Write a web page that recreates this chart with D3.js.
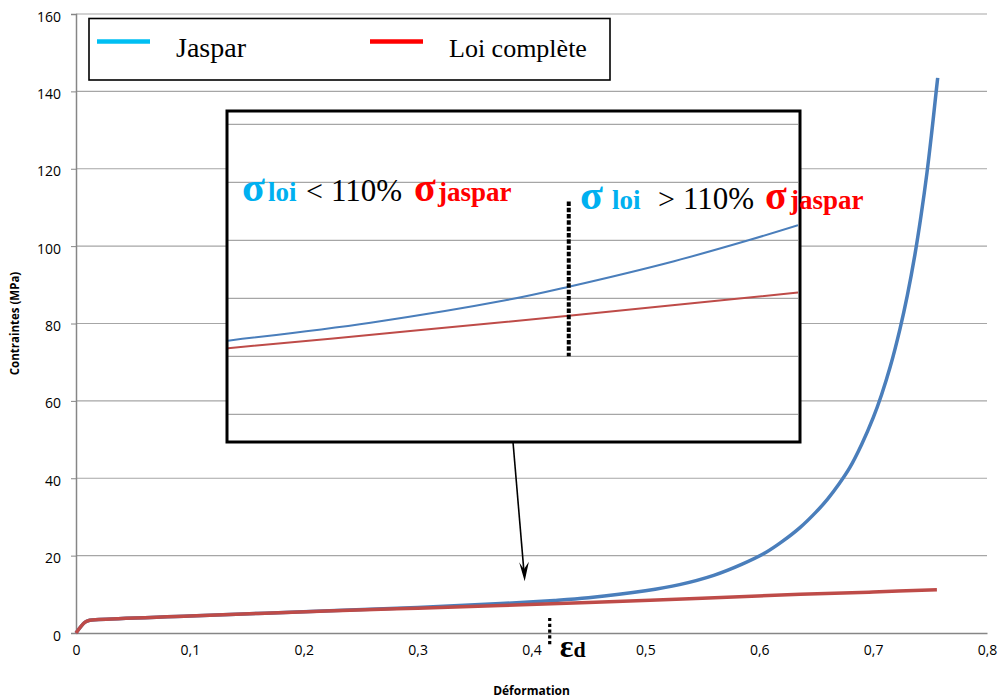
<!DOCTYPE html>
<html><head><meta charset="utf-8">
<script src="https://cdn.jsdelivr.net/npm/d3@7"></script>
<style>body{margin:0;background:#fff}</style>
</head><body><svg id="c" width="999" height="700"></svg>
<script>
// ---------- data ----------
const yTicks = [0, 20, 40, 60, 80, 100, 120, 140, 160];
const xTicks = [0, 0.1, 0.2, 0.3, 0.4, 0.5, 0.6, 0.7, 0.8];
const xTickLabels = ["0", "0,1", "0,2", "0,3", "0,4", "0,5", "0,6", "0,7", "0,8"];
const seriesNames = ["Jaspar", "Loi complète"];

const jasparStrain = [0, 0.008, 0.012, 0.02, 0.1, 0.2, 0.3, 0.373, 0.42, 0.45, 0.5, 0.53, 0.56, 0.585, 0.6057, 0.62, 0.636, 0.65, 0.66, 0.67, 0.6796, 0.69, 0.7, 0.7074, 0.715, 0.7235, 0.73, 0.7367, 0.742, 0.7473, 0.7515, 0.7552, 0.7567];
const jasparStress = [0, 2.8, 3.3, 3.5, 4.4, 5.5, 6.6, 7.6, 8.4, 9.1, 10.9, 12.5, 14.9, 17.8, 20.8, 23.6, 27.3, 31.3, 34.6, 38.5, 42.8, 48.8, 55.6, 61.6, 68.8, 78.5, 87.2, 97.8, 107.7, 119, 129.5, 139.5, 143.5];

const loiStrain = [0, 0.008, 0.012, 0.02, 0.1, 0.22, 0.3, 0.373, 0.45, 0.55, 0.636, 0.7, 0.756];
const loiStress = [0, 2.8, 3.3, 3.5, 4.4, 5.7, 6.4, 7.1, 7.9, 9.0, 10.0, 10.6, 11.2];

// zoomed view (inset)
const insetGrid = [6, 7, 8, 9, 10, 11];
const insetJasparStrain = [0.361, 0.384, 0.406, 0.416, 0.433, 0.445, 0.453];
const insetJasparStress = [7.27, 7.58, 7.97, 8.20, 8.64, 9.00, 9.26];
const insetLoiStrain = [0.361, 0.39, 0.416, 0.453];
const insetLoiStress = [7.14, 7.43, 7.70, 8.10];
const epsD = 0.416;

// ---------- drawing ----------
const svg = d3.select("#c");
const x = d3.scaleLinear().domain([0, 0.8]).range([76, 987]);
const y = d3.scaleLinear().domain([0, 160]).range([633, 14]);
const sans = "'Open Sans', 'Liberation Sans', sans-serif";
const serif = "'Liberation Serif', 'DejaVu Serif', serif";
const BLUE = "#4A7EBB", RED = "#BE4B48";

// gridlines
svg.append("g").selectAll("line").data(yTicks.filter(d => d > 0)).join("line")
  .attr("x1", x(0)).attr("x2", x(0.8))
  .attr("y1", d => y(d)).attr("y2", d => y(d))
  .attr("stroke", "#A6A6A6").attr("stroke-width", 1.2);

// y axis
const yAxis = d3.axisLeft(y).tickValues(yTicks).tickSize(5).tickPadding(10).tickFormat(d3.format("d"));
const gy = svg.append("g").attr("transform", `translate(${x(0)},0)`).call(yAxis);
gy.select(".domain").attr("stroke", "#868686").attr("stroke-width", 1.5);
gy.selectAll(".tick line").attr("stroke", "#868686");
gy.selectAll(".tick text").attr("font-family", sans).attr("font-size", 14).attr("fill", "#000").attr("dy", "0.5em");

// x axis
const xAxis = d3.axisBottom(x).tickValues(xTicks).tickSize(0).tickPadding(12)
  .tickFormat((d, i) => xTickLabels[i]);
const gx = svg.append("g").attr("transform", `translate(0,${y(0)})`).call(xAxis);
gx.select(".domain").attr("stroke", "#868686").attr("stroke-width", 1.5);
gx.selectAll(".tick text").attr("font-family", sans).attr("font-size", 14).attr("fill", "#000");

// axis titles
svg.append("text").attr("x", (x(0) + x(0.8)) / 2).attr("y", 695)
  .attr("text-anchor", "middle").attr("font-family", sans).attr("font-weight", "bold")
  .attr("font-size", 12).text("Déformation");
svg.append("text").attr("transform", `translate(19,${(y(0) + y(160)) / 2}) rotate(-90)`)
  .attr("text-anchor", "middle").attr("font-family", sans).attr("font-weight", "bold")
  .attr("font-size", 11.5).text("Contraintes (MPa)");

// curves
const line = d3.line().x(d => x(d[0])).y(d => y(d[1])).curve(d3.curveCatmullRom.alpha(0.5));
svg.append("path").datum(d3.zip(jasparStrain, jasparStress)).attr("d", line)
  .attr("fill", "none").attr("stroke", BLUE).attr("stroke-width", 3.5);
svg.append("path").datum(d3.zip(loiStrain, loiStress)).attr("d", line)
  .attr("fill", "none").attr("stroke", RED).attr("stroke-width", 3.5);

// legend
const lg = svg.append("g");
lg.append("rect").attr("x", 89).attr("y", 18.5).attr("width", 521).attr("height", 61.5)
  .attr("fill", "#fff").attr("stroke", "#000").attr("stroke-width", 1.6);
const legColors = ["#00BFF3", "#FF0000"];
const legX = [97, 370];
const legSize = [28, 26];
seriesNames.forEach((n, i) => {
  lg.append("line").attr("x1", legX[i]).attr("x2", legX[i] + 53).attr("y1", 41.5).attr("y2", 41.5)
    .attr("stroke", legColors[i]).attr("stroke-width", 4.5);
  lg.append("text").attr("x", legX[i] + 79).attr("y", 57).attr("font-family", serif)
    .attr("font-size", legSize[i]).text(n);
});

// inset (zoomed view)
const ix = d3.scaleLinear().domain([0.361, 0.453]).range([228, 798]);
const iy = d3.scaleLinear().domain([6, 11]).range([414.3, 124.3]);
const ig = svg.append("g");
ig.append("rect").attr("x", 227).attr("y", 111).attr("width", 573).attr("height", 331)
  .attr("fill", "#fff");
svg.append("clipPath").attr("id", "ic").append("rect")
  .attr("x", 228).attr("y", 112).attr("width", 570).attr("height", 329);
const igc = ig.append("g").attr("clip-path", "url(#ic)");
igc.selectAll("line.g").data(insetGrid).join("line").attr("class", "g")
  .attr("x1", 228).attr("x2", 798).attr("y1", d => iy(d)).attr("y2", d => iy(d))
  .attr("stroke", "#A6A6A6").attr("stroke-width", 1.2);
const iline = d3.line().x(d => ix(d[0])).y(d => iy(d[1])).curve(d3.curveCatmullRom.alpha(0.5));
igc.append("path").datum(d3.zip(insetJasparStrain, insetJasparStress)).attr("d", iline)
  .attr("fill", "none").attr("stroke", BLUE).attr("stroke-width", 2);
igc.append("path").datum(d3.zip(insetLoiStrain, insetLoiStress)).attr("d", iline)
  .attr("fill", "none").attr("stroke", RED).attr("stroke-width", 2);
ig.append("line").attr("x1", ix(epsD)).attr("x2", ix(epsD)).attr("y1", iy(9.67)).attr("y2", iy(7))
  .attr("stroke", "#000").attr("stroke-width", 4).attr("stroke-dasharray", "4.5,1.8");
ig.append("rect").attr("x", 227).attr("y", 111).attr("width", 573).attr("height", 331)
  .attr("fill", "none").attr("stroke", "#000").attr("stroke-width", 3);

// inset annotations
const CY = "#00B0F0";
function ann(parts, base) {
  const t = svg.append("text").attr("y", base).attr("font-family", serif);
  parts.forEach(p => {
    t.append("tspan").attr("x", p.x).attr("fill", p.c).attr("font-size", p.s)
      .attr("font-weight", p.b ? "bold" : "normal").text(p.t);
  });
}
ann([
  {t: "σ", x: 242, c: CY, s: 42, b: true},
  {t: "loi", x: 268, c: CY, s: 27, b: true},
  {t: "<", x: 306, c: "#000", s: 30},
  {t: "110%", x: 331, c: "#000", s: 31},
  {t: "σ", x: 414, c: "#FF0000", s: 40, b: true},
  {t: "jaspar", x: 438, c: "#FF0000", s: 27, b: true}
], 201);
ann([
  {t: "σ", x: 580, c: CY, s: 42, b: true},
  {t: "loi", x: 612, c: CY, s: 27, b: true},
  {t: ">", x: 658, c: "#000", s: 30},
  {t: "110%", x: 683, c: "#000", s: 31},
  {t: "σ", x: 765, c: "#FF0000", s: 40, b: true},
  {t: "jaspar", x: 790, c: "#FF0000", s: 27, b: true}
], 209);

// arrow from inset to curve
const tipX = x(0.394), tipY = y(13.4);
svg.append("line").attr("x1", 513).attr("y1", 442).attr("x2", tipX - 0.6).attr("y2", tipY - 8)
  .attr("stroke", "#000").attr("stroke-width", 1.6);
svg.append("path")
  .attr("d", `M${tipX},${tipY} L${tipX - 5.5},${tipY - 19} L${tipX - 0.8},${tipY - 12} L${tipX + 4.2},${tipY - 19.5} Z`)
  .attr("fill", "#000");

// epsilon_d marker
svg.append("line").attr("x1", x(epsD)).attr("x2", x(epsD)).attr("y1", y(3.9)).attr("y2", y(-3.1))
  .attr("stroke", "#000").attr("stroke-width", 3.2).attr("stroke-dasharray", "3.2,2.6");
const et = svg.append("text").attr("y", 657).attr("font-family", serif);
et.append("tspan").attr("x", x(epsD) + 10).attr("font-size", 32).attr("font-weight", "bold").text("ε");
et.append("tspan").attr("font-size", 22).attr("font-weight", "bold").text("d");
</script></body></html>
